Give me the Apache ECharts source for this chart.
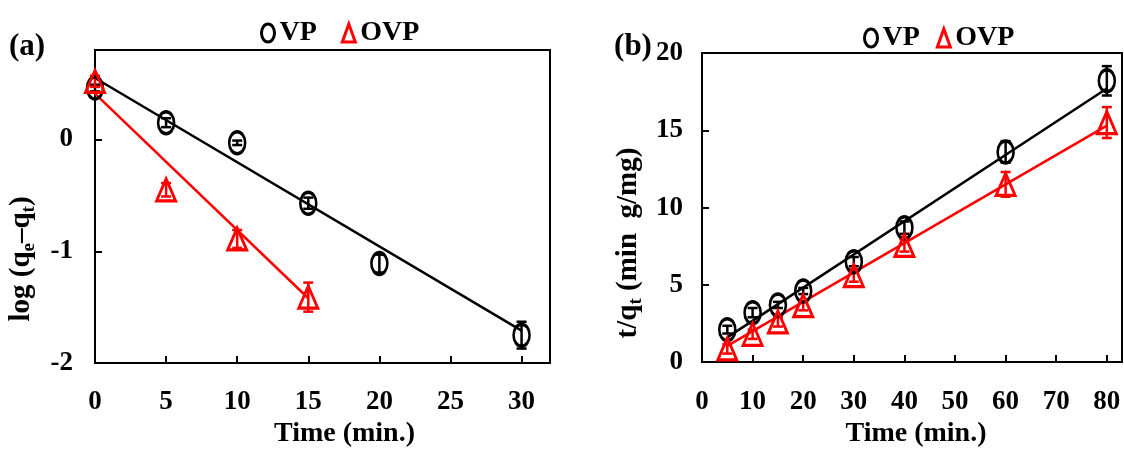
<!DOCTYPE html>
<html>
<head>
<meta charset="utf-8">
<script src="https://cdn.jsdelivr.net/npm/echarts@6/dist/echarts.min.js"></script>
<style>
html,body{margin:0;padding:0;background:#fff;}
#chart{width:1124px;height:453px;}
</style>
</head>
<body>
<div id="chart"></div>
<script>
// ---- Panel (a): pseudo-first-order ----
const timeA_VP = [0, 5, 10, 15, 20, 30];
const logA_VP = [0.46, 0.15, -0.03, -0.57, -1.11, -1.75];
const errA_VP = [0.03, 0.04, 0.02, 0.05, 0.08, 0.12];
const timeA_OVP = [0, 5, 10, 15];
const logA_OVP = [0.52, -0.45, -0.89, -1.41];
const errA_OVP = [0.05, 0.06, 0.08, 0.13];
const fitA_VP = [[0, 0.55], [30, -1.71]];
const fitA_OVP = [[0, 0.41], [15, -1.42]];
const ticksA_x = [0, 5, 10, 15, 20, 25, 30];
const ticksA_y = [-2, -1, 0];

// ---- Panel (b): pseudo-second-order ----
const timeB = [5, 10, 15, 20, 30, 40, 60, 80];
const tqB_VP = [2.1, 3.2, 3.7, 4.6, 6.5, 8.7, 13.6, 18.2];
const errB_VP = [0.25, 0.3, 0.2, 0.2, 0.3, 0.4, 0.7, 0.95];
const tqB_OVP = [0.85, 1.8, 2.6, 3.65, 5.6, 7.55, 11.5, 15.5];
const errB_OVP = [0.3, 0.3, 0.3, 0.3, 0.4, 0.4, 0.8, 1.0];
const fitB_VP = [[5, 1.6], [80, 17.7]];
const fitB_OVP = [[5, 1.05], [80, 15.3]];
const ticksB_x = [0, 10, 20, 30, 40, 50, 60, 70, 80];
const ticksB_y = [0, 5, 10, 15, 20];

const seriesNames = ['VP', 'OVP'];
const panelLabels = ['(a)', '(b)'];

const FONT = 'Liberation Serif, Times New Roman, serif';
const BLACK = '#000000';
const RED = '#ff0000';
const ELLIPSE = 'path://M0,-1 A1,1 0 1,1 0,1 A1,1 0 1,1 0,-1 Z';

function pts(xs, ys) { return xs.map((x, i) => [x, ys[i]]); }
function errPts(xs, ys, es) { return xs.map((x, i) => [x, ys[i] - es[i], ys[i] + es[i]]); }

function errSeries(name, xs, ys, es, color, gi) {
  return {
    name: name, type: 'custom', xAxisIndex: gi, yAxisIndex: gi, z: 3,
    data: errPts(xs, ys, es),
    renderItem: function (params, api) {
      const lo = api.coord([api.value(0), api.value(1)]);
      const hi = api.coord([api.value(0), api.value(2)]);
      const cw = 5;
      const st = { stroke: color, lineWidth: 2.5, fill: null };
      return {
        type: 'group', children: [
          { type: 'line', shape: { x1: lo[0], y1: lo[1], x2: hi[0], y2: hi[1] }, style: st },
          { type: 'line', shape: { x1: lo[0] - cw, y1: lo[1], x2: lo[0] + cw, y2: lo[1] }, style: st },
          { type: 'line', shape: { x1: hi[0] - cw, y1: hi[1], x2: hi[0] + cw, y2: hi[1] }, style: st }
        ]
      };
    }
  };
}

function scatterSeries(name, xs, ys, gi, isCircle) {
  return {
    name: name, type: 'scatter', xAxisIndex: gi, yAxisIndex: gi, z: 4,
    symbol: isCircle ? ELLIPSE : 'triangle',
    symbolKeepAspect: false,
    symbolSize: isCircle ? [16, 22] : [19, 22],
    itemStyle: { color: 'transparent', borderColor: isCircle ? BLACK : RED, borderWidth: 3, opacity: 1 },
    data: pts(xs, ys)
  };
}

function fitSeries(name, data, color, gi) {
  return {
    name: name, type: 'line', xAxisIndex: gi, yAxisIndex: gi, z: 2,
    data: data, symbol: 'none', lineStyle: { color: color, width: 2.5 },
    itemStyle: { color: color }
  };
}

const axisLineStyle = { show: true, onZero: false, lineStyle: { color: BLACK, width: 2 } };
const tickStyle = { show: true, inside: true, length: 7, lineStyle: { color: BLACK, width: 2 } };
const labelStyle = { color: BLACK, fontFamily: FONT, fontWeight: 'bold', fontSize: 27 };

const legendData = [
  { name: seriesNames[0], icon: ELLIPSE, itemStyle: { color: 'transparent', borderColor: BLACK, borderWidth: 3 } },
  { name: seriesNames[1], icon: 'triangle', itemStyle: { color: 'transparent', borderColor: RED, borderWidth: 3 } }
];
const legendBase = {
  orient: 'horizontal', itemWidth: 13, itemHeight: 18, symbolKeepAspect: false,
  textStyle: { color: BLACK, fontFamily: FONT, fontWeight: 'bold', fontSize: 28 },
  selectedMode: false, data: legendData
};

const titleRich = {
  n: { fontFamily: FONT, fontWeight: 'bold', fontSize: 29, fill: BLACK },
  s: { fontFamily: FONT, fontWeight: 'bold', fontSize: 19, fill: BLACK, padding: [14, 0, 0, 0] }
};

const option = {
  animation: false,
  backgroundColor: '#ffffff',
  legend: [
    Object.assign({}, legendBase, { left: 255, top: 14, itemGap: 24 }),
    Object.assign({}, legendBase, { left: 858, top: 19, itemGap: 16 })
  ],
  grid: [
    { left: 95, top: 50, width: 455, height: 321, show: true, borderColor: BLACK, borderWidth: 2, backgroundColor: 'transparent' },
    { left: 702, top: 53, width: 420, height: 312, show: true, borderColor: BLACK, borderWidth: 2, backgroundColor: 'transparent' }
  ],
  xAxis: [
    {
      gridIndex: 0, type: 'value', min: 0, max: 32, interval: 5,
      axisLine: axisLineStyle, axisTick: tickStyle, splitLine: { show: false },
      axisLabel: Object.assign({ margin: 25, showMaxLabel: false }, labelStyle),
      name: 'Time (min.)', nameLocation: 'middle', nameGap: 50,
      nameTextStyle: { color: BLACK, fontFamily: FONT, fontWeight: 'bold', fontSize: 28, padding: [0, 0, 0, 44] }
    },
    {
      gridIndex: 1, type: 'value', min: 0, max: 83, interval: 10,
      axisLine: axisLineStyle, axisTick: tickStyle, splitLine: { show: false },
      axisLabel: Object.assign({ margin: 26, showMaxLabel: false }, labelStyle),
      name: 'Time (min.)', nameLocation: 'middle', nameGap: 56,
      nameTextStyle: { color: BLACK, fontFamily: FONT, fontWeight: 'bold', fontSize: 28, padding: [0, 0, 0, 8] }
    }
  ],
  yAxis: [
    {
      gridIndex: 0, type: 'value', min: -2, max: 0.8, interval: 1,
      axisLine: axisLineStyle, axisTick: tickStyle, splitLine: { show: false },
      axisLabel: Object.assign({ margin: 22, showMaxLabel: false }, labelStyle)
    },
    {
      gridIndex: 1, type: 'value', min: 0, max: 20, interval: 5,
      axisLine: axisLineStyle, axisTick: tickStyle, splitLine: { show: false },
      axisLabel: Object.assign({ margin: 19 }, labelStyle)
    }
  ],
  graphic: [
    { type: 'text', x: 27, y: 47, style: { text: panelLabels[0], fill: BLACK, font: 'bold 31px ' + FONT, align: 'center', verticalAlign: 'middle' } },
    { type: 'text', x: 633, y: 47, style: { text: panelLabels[1], fill: BLACK, font: 'bold 31px ' + FONT, align: 'center', verticalAlign: 'middle' } },
    {
      type: 'text', x: 22, y: 259, rotation: Math.PI / 2,
      style: { text: '{n|log (q}{s|e}{n|–q}{s|t}{n|)}', align: 'center', verticalAlign: 'middle', fill: BLACK, rich: titleRich }
    },
    {
      type: 'text', x: 629, y: 243, rotation: Math.PI / 2,
      style: { text: '{n|t/q}{s|t}{n| (min  g/mg)}', align: 'center', verticalAlign: 'middle', fill: BLACK, rich: titleRich }
    }
  ],
  series: [
    fitSeries(seriesNames[0], fitA_VP, BLACK, 0),
    fitSeries(seriesNames[1], fitA_OVP, RED, 0),
    errSeries(seriesNames[0], timeA_VP, logA_VP, errA_VP, BLACK, 0),
    errSeries(seriesNames[1], timeA_OVP, logA_OVP, errA_OVP, RED, 0),
    scatterSeries(seriesNames[0], timeA_VP, logA_VP, 0, true),
    scatterSeries(seriesNames[1], timeA_OVP, logA_OVP, 0, false),
    fitSeries(seriesNames[0], fitB_VP, BLACK, 1),
    fitSeries(seriesNames[1], fitB_OVP, RED, 1),
    errSeries(seriesNames[0], timeB, tqB_VP, errB_VP, BLACK, 1),
    errSeries(seriesNames[1], timeB, tqB_OVP, errB_OVP, RED, 1),
    scatterSeries(seriesNames[0], timeB, tqB_VP, 1, true),
    scatterSeries(seriesNames[1], timeB, tqB_OVP, 1, false)
  ]
};

const chart = echarts.init(document.getElementById('chart'), null, { renderer: 'canvas' });
chart.setOption(option);
</script>
</body>
</html>
